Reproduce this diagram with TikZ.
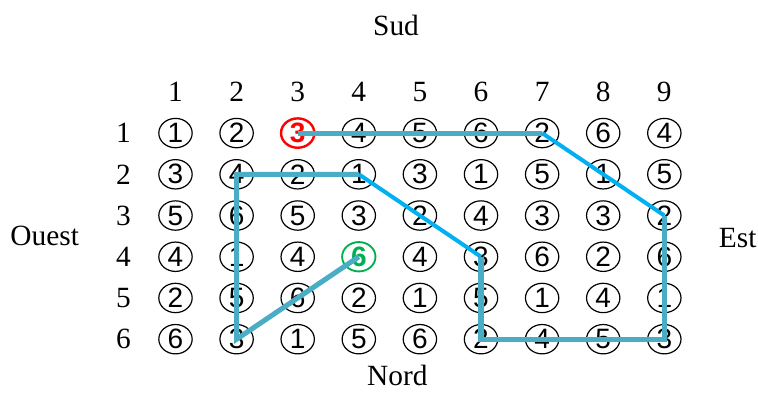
\documentclass[tikz,border=0pt]{standalone}
\usepackage{fontspec}
\setmainfont{Liberation Serif}
\newfontfamily\cellfont{Liberation Sans}
\usepackage{tikz}
\usetikzlibrary{shapes.geometric}
\definecolor{pathteal}{RGB}{75, 172, 198}
\definecolor{pathblue}{RGB}{0, 176, 240}
\definecolor{startred}{RGB}{255, 0, 0}
\definecolor{goalgreen}{RGB}{0, 176, 80}

\begin{document}
\begin{tikzpicture}[
    x=45.8pt, y=-30.9pt,
    every node/.style={font=\fontsize{22}{26}\selectfont},
    cell/.style={ellipse, draw, line width=0.9pt, minimum width=25pt, minimum height=22pt,
      inner sep=0pt, font=\cellfont\fontsize{21}{24}\selectfont},
    start/.style={draw=startred, text=startred, line width=1.8pt,
      font=\cellfont\bfseries\fontsize{21}{24}\selectfont},
    goal/.style={draw=goalgreen, text=goalgreen, line width=1.4pt,
      font=\cellfont\bfseries\fontsize{21}{24}\selectfont},
    cell 3-1/.style={start},
    cell 4-4/.style={goal},
    route/.style={pathteal, line width=3.8pt},
    shortcut/.style={pathblue, line width=3pt},
]
  \useasboundingbox (-1.872,-2.228) rectangle (10.533,7.286);

  % Directions
  \node (sud) at (4.61,-1.6) {Sud};
  \node (nord) at (4.63,6.88) {Nord};
  \node (ouest) at (-1.14,3.5) {Ouest};
  \node (est) at (10.2,3.55) {Est};

  % Column and row numbers
  \foreach \c in {1,...,9}
    \node (h\c) at (\c,0) {\c};
  \foreach \r in {1,...,6}
    \node (r\r) at (0.15,\r) {\r};

  % Grid of values
  \foreach \r/\vals in {1/{1,2,3,4,5,6,2,6,4}, 2/{3,4,2,1,3,1,5,1,5},
                        3/{5,6,5,3,2,4,3,3,2}, 4/{4,1,4,6,4,3,6,2,6},
                        5/{2,5,6,2,1,5,1,4,1}, 6/{6,3,1,5,6,2,4,5,3}}
    \foreach \v [count=\c] in \vals
      \node[cell, cell \c-\r/.try] (c\c-\r) at (\c,\r) {\v};

  % Route
  \draw[route] (c3-1.center) -- (c7-1.center);
  \draw[shortcut] (c7-1.center) -- (c9-3.center);
  \draw[route] (c9-3.center) -- (c9-6.center) -- (c6-6.center) -- (c6-4.center);
  \draw[shortcut] (c6-4.center) -- (c4-2.center);
  \draw[route] (c4-2.center) -- (c2-2.center) -- (c2-6.center) -- (c4-4.center);
\end{tikzpicture}
\end{document}
